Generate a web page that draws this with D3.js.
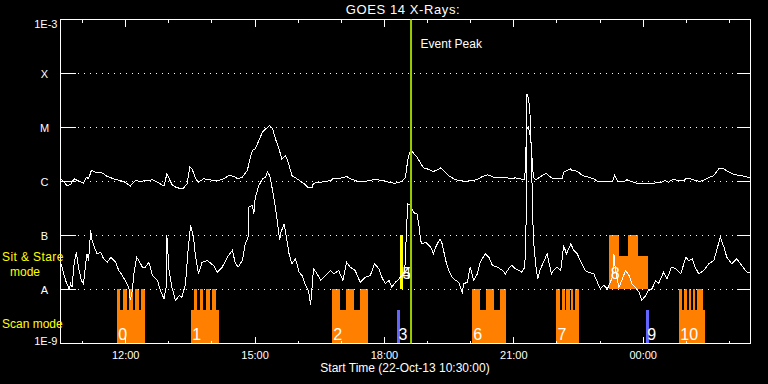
<!DOCTYPE html>
<html>
<head>
<meta charset="utf-8">
<script src="https://cdn.jsdelivr.net/npm/d3@7"></script>
<style>
  body { margin: 0; background: #000; }
  svg { display: block; font-family: "Liberation Sans", Arial, sans-serif; }
</style>
</head>
<body>
<div id="chart"></div>
<script>
// start of plot: 22-Oct-13 10:30:00, times below are minutes after that
const startTime = Date.UTC(2013, 9, 22, 10, 30);
const spanMinutes = 960;

// GOES 14 long channel (1-8 A), [minute, W/m2]
const longChannel = [[1,1.12e-6],[5,0.97e-6],[9,0.84e-6],[14,0.88e-6],[19,1.12e-6],[24,1.04e-6],[32,0.93e-6],[36,1.2e-6],[39,1.12e-6],[43,1.6e-6],[49,1.49e-6],[56,1.49e-6],[60,1.39e-6],[65,1.24e-6],[74,1.12e-6],[83,1.04e-6],[90,0.97e-6],[97,0.82e-6],[104,1.04e-6],[111,1.01e-6],[121,1.04e-6],[128,1.08e-6],[135,0.97e-6],[144,0.82e-6],[148,1.39e-6],[155,0.88e-6],[162,0.76e-6],[171,0.75e-6],[176,0.91e-6],[180,1.84e-6],[183,1.72e-6],[188,1.12e-6],[192,0.97e-6],[199,1.12e-6],[206,1.09e-6],[213,1.04e-6],[220,1.04e-6],[227,1.12e-6],[234,1.29e-6],[241,1.25e-6],[247,1.12e-6],[253,1.2e-6],[260,1.6e-6],[263,2.45e-6],[267,3.75e-6],[271,4.03e-6],[274,4.99e-6],[278,6.6e-6],[281,8.2e-6],[288,1.01e-5],[291,1.09e-5],[295,9.5e-6],[299,6.2e-6],[304,4.0e-6],[308,2.6e-6],[313,3.0e-6],[316,2.45e-6],[322,1.29e-6],[329,1.12e-6],[339,0.91e-6],[345,0.76e-6],[350,0.78e-6],[352,0.93e-6],[362,0.97e-6],[376,1.04e-6],[380,1.15e-6],[387,1.12e-6],[398,1.24e-6],[403,1.12e-6],[413,1.01e-6],[424,1.0e-6],[436,1.09e-6],[450,1.04e-6],[459,0.95e-6],[466,0.93e-6],[475,1.0e-6],[480,1.2e-6],[483,2.45e-6],[487,3.87e-6],[490,3.49e-6],[496,2.82e-6],[505,1.79e-6],[510,1.72e-6],[519,1.53e-6],[525,1.67e-6],[529,1.79e-6],[533,1.6e-6],[540,1.29e-6],[547,1.12e-6],[554,1.04e-6],[563,1.01e-6],[573,1.04e-6],[580,1.09e-6],[587,1.24e-6],[594,1.33e-6],[603,1.2e-6],[612,1.17e-6],[619,1.2e-6],[626,1.12e-6],[633,1.17e-6],[640,1.12e-6],[646,1.08e-6],[647,3.0e-6],[649,9.5e-6],[651,1.01e-5],[653,7.6e-6],[655,5.0e-6],[657,1.6e-6],[659,1.12e-6],[662,1.09e-6],[668,1.24e-6],[676,1.43e-6],[679,1.29e-6],[685,1.12e-6],[698,1.12e-6],[700,1.49e-6],[709,1.72e-6],[712,1.6e-6],[719,1.55e-6],[726,1.29e-6],[735,1.2e-6],[742,1.12e-6],[747,1.01e-6],[756,1.0e-6],[768,1.01e-6],[771,1.29e-6],[775,1.01e-6],[784,1.0e-6],[788,1.08e-6],[793,1.01e-6],[802,0.93e-6],[816,0.91e-6],[825,0.93e-6],[835,0.96e-6],[841,1.04e-6],[846,0.97e-6],[852,1.1e-6],[860,1.04e-6],[867,1.04e-6],[871,1.15e-6],[877,1.12e-6],[883,1.04e-6],[890,1.01e-6],[897,1.09e-6],[903,1.2e-6],[909,1.29e-6],[916,1.72e-6],[921,1.76e-6],[928,1.55e-6],[937,1.35e-6],[946,1.29e-6],[953,1.24e-6],[960,1.15e-6]];

// GOES 14 short channel (0.5-4 A), [minute, W/m2]
const shortChannel = [[1,2.99e-8],[5,1.82e-8],[8,1.36e-8],[12,1.03e-8],[14,1.28e-8],[16,1.1e-8],[19,2.99e-8],[22,4.9e-8],[25,2.59e-8],[29,1.47e-8],[32,1.28e-8],[35,2.99e-8],[37,4.58e-8],[39,3.44e-8],[42,1.24e-7],[44,8.1e-8],[47,6.1e-8],[51,4.58e-8],[56,4.9e-8],[60,3.7e-8],[65,3.2e-8],[70,3.96e-8],[77,3.2e-8],[81,2.25e-8],[86,1.82e-8],[90,1.47e-8],[95,1.1e-8],[97,6.3e-9],[100,9.6e-9],[102,1.95e-8],[106,3.96e-8],[109,3.44e-8],[114,2.59e-8],[118,2.59e-8],[123,3.2e-8],[128,1.82e-8],[135,1.47e-8],[139,9.6e-9],[144,6.7e-9],[147,1.1e-8],[148,1.0e-7],[151,2.25e-8],[155,1.1e-8],[160,6.3e-9],[165,7.7e-9],[169,7.2e-9],[174,1.28e-8],[177,4.58e-8],[181,1.53e-7],[185,9.3e-8],[188,3.96e-8],[192,1.95e-8],[197,3.2e-8],[204,3.44e-8],[213,2.78e-8],[218,2.09e-8],[225,2.59e-8],[232,3.96e-8],[239,5.3e-8],[243,3.2e-8],[247,2.59e-8],[253,3.44e-8],[257,7.0e-8],[261,9.3e-8],[262,3.34e-7],[267,3.6e-7],[269,2.52e-7],[271,5.1e-7],[276,8.4e-7],[281,1.12e-6],[285,1.2e-6],[288,1.49e-6],[291,1.29e-6],[296,5.9e-7],[301,2.18e-7],[305,8.1e-8],[306,1.07e-7],[311,1.65e-7],[315,8.1e-8],[318,4.58e-8],[322,2.99e-8],[327,3.7e-8],[332,2.09e-8],[336,1.82e-8],[341,1.19e-8],[345,9.6e-9],[348,5.1e-9],[350,1.1e-8],[352,2.42e-8],[357,1.95e-8],[362,1.47e-8],[366,1.69e-8],[376,2.25e-8],[380,1.95e-8],[387,2.25e-8],[393,1.47e-8],[398,3.2e-8],[403,2.59e-8],[410,2.25e-8],[417,1.36e-8],[424,1.69e-8],[431,1.82e-8],[437,2.99e-8],[443,2.42e-8],[447,1.69e-8],[452,1.28e-8],[457,1.47e-8],[461,1.1e-8],[466,1.36e-8],[471,1.58e-8],[475,1.82e-8],[479,2.25e-8],[481,9.3e-8],[482,1.9e-7],[483,3.86e-7],[486,3.75e-7],[489,3.12e-7],[493,2.52e-7],[496,2.52e-7],[499,1.43e-7],[501,8.1e-8],[503,7.0e-8],[508,7.5e-8],[515,6.1e-8],[519,4.58e-8],[522,6.1e-8],[528,8.7e-8],[531,7.0e-8],[536,3.44e-8],[540,2.25e-8],[545,1.69e-8],[550,1.47e-8],[554,1.36e-8],[559,8.9e-9],[561,1.28e-8],[566,1.36e-8],[570,2.59e-8],[575,1.47e-8],[580,1.95e-8],[584,3.2e-8],[591,4.58e-8],[596,3.96e-8],[601,2.78e-8],[608,2.59e-8],[615,2.25e-8],[619,1.95e-8],[625,2.59e-8],[628,2.78e-8],[633,2.42e-8],[638,2.25e-8],[642,2.09e-8],[646,2.59e-8],[647,8.1e-8],[648,2.18e-7],[649,4.2e-5],[651,3.49e-5],[653,2.15e-5],[655,3.75e-6],[657,2.35e-7],[658,8.1e-8],[659,6.1e-8],[661,2.99e-8],[664,1.58e-8],[667,2.25e-8],[671,2.99e-8],[677,4.58e-8],[680,2.99e-8],[683,1.95e-8],[686,2.25e-8],[691,2.59e-8],[696,2.25e-8],[700,6.5e-8],[704,4.58e-8],[710,7.0e-8],[714,5.3e-8],[719,4.58e-8],[723,3.44e-8],[730,2.25e-8],[735,2.09e-8],[742,1.95e-8],[747,1.36e-8],[751,1.03e-8],[756,1.19e-8],[761,1.03e-8],[768,1.69e-8],[770,4.58e-8],[772,2.25e-8],[777,1.1e-8],[781,1.47e-8],[786,2.25e-8],[791,1.82e-8],[795,1.28e-8],[800,1.1e-8],[805,8.9e-9],[809,6.3e-9],[814,7.7e-9],[818,9.6e-9],[823,1.03e-8],[828,1.47e-8],[832,1.28e-8],[839,2.09e-8],[844,1.58e-8],[850,2.59e-8],[856,2.42e-8],[863,1.95e-8],[870,3.96e-8],[874,3.44e-8],[879,3.7e-8],[883,2.59e-8],[888,1.95e-8],[895,2.25e-8],[902,2.99e-8],[909,3.44e-8],[918,9.3e-8],[923,6.1e-8],[927,3.96e-8],[934,2.99e-8],[941,3.7e-8],[948,2.78e-8],[955,2.09e-8],[960,2.09e-8]];

// flare class levels on the y axis
const levelValues = [1e-9, 1e-8, 1e-7, 1e-6, 1e-5, 1e-4, 1e-3];
const levelLabels = ["1E-9", "A", "B", "C", "M", "X", "1E-3"];

// observation bars, [start minute, end minute]
const scanLevels = [1e-9, 4.1e-9, 1e-8];      // bottom, low step, top
const stareLevels = [1e-8, 4.1e-8, 1e-7];
const scanBase = [[79,118],[182,221],[378,428],[573,621],[690,722],[861,897]];
const scanTall = [[79,84],[88,93],[96,101],[104,110],[112,118],
                  [186,191],[195,199],[203,208],[212,217],
                  [378,390],[398,409],[417,428],
                  [573,584],[593,604],[612,621],
                  [690,696],[698,702],[704,709],[711,714],[717,722],
                  [861,865],[868,872],[875,878],[880,884],[886,894]];
const stareBase = [[764,818]];
const stareTall = [[764,778],[790,804]];
const blueBars = [[469,473],[815,819]];
const yellowBars = [[473,477]];

const scanLabelText = ["0","1","2","3","6","7","9","10"];
const scanLabelTime = [79,182,378,469,573,690,815,861];
const stareLabelText = ["4","5","8"];
const stareLabelTime = [474,474,764];

const eventPeak = 487;

const toDate = m => new Date(startTime + m * 60000);

const margin = { top: 19, right: 18, bottom: 41, left: 60 };
const width = 768 - margin.left - margin.right;
const height = 384 - margin.top - margin.bottom;

const svg = d3.select("#chart")
    .append("svg")
    .attr("width", 768)
    .attr("height", 384)
    .style("background", "#000");

const g = svg.append("g")
    .attr("transform", "translate(" + (margin.left + 0.5) + "," + (margin.top + 0.5) + ")");

const x = d3.scaleUtc().domain([toDate(0), toDate(spanMinutes)]).range([0, width]);
const y = d3.scaleLog().domain([1e-9, 1e-3]).range([height, 0]);

// bars: draw base blocks first, the tall bars on top leave black notches
function bars(list, lo, hi, color) {
    g.append("g").selectAll("rect")
        .data(list)
        .join("rect")
        .attr("x", d => x(toDate(d[0])) - 0.5)
        .attr("width", d => x(toDate(d[1])) - x(toDate(d[0])))
        .attr("y", y(hi) - 0.5)
        .attr("height", y(lo) - y(hi))
        .attr("fill", color)
        .attr("shape-rendering", "crispEdges");
}
bars(scanBase, scanLevels[0], scanLevels[1], "#ff8000");
bars(scanTall, scanLevels[0], scanLevels[2], "#ff8000");
bars(stareBase, stareLevels[0], stareLevels[1], "#ff8000");
bars(stareTall, stareLevels[0], stareLevels[2], "#ff8000");
bars(blueBars, scanLevels[0], scanLevels[1], "#6464ff");
bars(yellowBars, stareLevels[0], stareLevels[2], "#ffff00");

// dotted grid lines at A, B, C, M, X with solid stubs at both ends
const gridLevels = levelValues.slice(1, -1);
const grid = g.append("g");
grid.selectAll(".dots")
    .data(gridLevels)
    .join("line")
    .attr("x1", 17).attr("x2", 675)
    .attr("y1", d => y(d)).attr("y2", d => y(d))
    .attr("stroke", "#fff")
    .attr("stroke-dasharray", "1,5")
    .attr("shape-rendering", "crispEdges");
grid.selectAll(".stubL")
    .data(gridLevels)
    .join("line")
    .attr("x1", 0).attr("x2", 15)
    .attr("y1", d => y(d)).attr("y2", d => y(d))
    .attr("stroke", "#fff")
    .attr("shape-rendering", "crispEdges");
grid.selectAll(".stubR")
    .data(gridLevels)
    .join("line")
    .attr("x1", width - 14).attr("x2", width)
    .attr("y1", d => y(d)).attr("y2", d => y(d))
    .attr("stroke", "#fff")
    .attr("shape-rendering", "crispEdges");

// frame
g.append("rect")
    .attr("x", 0).attr("y", 0)
    .attr("width", width).attr("height", height)
    .attr("fill", "none")
    .attr("stroke", "#fff")
    .attr("shape-rendering", "crispEdges");

// time axes, ticks pointing inward
function timeAxis(axisFn, yPos, every, size, labels) {
    const a = g.append("g")
        .attr("transform", "translate(0," + yPos + ")")
        .call(axisFn(x)
            .ticks(d3.utcHour.every(every))
            .tickSizeInner(size)
            .tickSizeOuter(0)
            .tickPadding(8)
            .tickFormat(labels ? d3.utcFormat("%H:%M") : ""));
    a.select(".domain").remove();
    a.selectAll("line").attr("stroke", "#fff").attr("shape-rendering", "crispEdges");
    a.selectAll("text")
        .attr("fill", "#fff")
        .style("font-family", "'Liberation Sans', Arial, sans-serif")
        .style("font-size", "11px");
}
timeAxis(d3.axisTop, 0, 1, -3, false);
timeAxis(d3.axisTop, 0, 3, -7, false);
timeAxis(d3.axisBottom, height, 1, -3, false);
timeAxis(d3.axisBottom, height, 3, -7, true);

// y labels
g.append("g").selectAll("text")
    .data(levelValues)
    .join("text")
    .attr("x", (d, i) => (i === 0 || i === levelValues.length - 1) ? -3 : -16)
    .attr("y", (d, i) => y(d) + (i === 0 ? 1 : i === levelValues.length - 1 ? 8 : 4))
    .attr("text-anchor", (d, i) => (i === 0 || i === levelValues.length - 1) ? "end" : "middle")
    .attr("fill", "#fff")
    .style("font-size", "11px")
    .text((d, i) => levelLabels[i]);

// flux curves
const line = d3.line()
    .x(d => x(toDate(d[0])))
    .y(d => y(d[1]));

g.append("path")
    .datum(longChannel)
    .attr("d", line)
    .attr("fill", "none")
    .attr("stroke", "#fff")
    .attr("stroke-width", 1)
    .attr("shape-rendering", "crispEdges");

g.append("path")
    .datum(shortChannel)
    .attr("d", line)
    .attr("fill", "none")
    .attr("stroke", "#fff")
    .attr("stroke-width", 1)
    .attr("shape-rendering", "crispEdges");

// block numbers
g.append("g").selectAll("text")
    .data(scanLabelText)
    .join("text")
    .attr("x", (d, i) => x(toDate(scanLabelTime[i])) + 1)
    .attr("y", y(scanLevels[0]) - 4)
    .attr("fill", "#fff")
    .style("font-size", "16px")
    .text(d => d);

g.append("g").selectAll("text")
    .data(stareLabelText)
    .join("text")
    .attr("x", (d, i) => x(toDate(stareLabelTime[i])) + 1)
    .attr("y", y(stareLevels[0]) - 11)
    .attr("fill", "#fff")
    .style("font-size", "16px")
    .text(d => d);

// event peak marker
g.append("line")
    .attr("x1", x(toDate(eventPeak)) + 0.5).attr("x2", x(toDate(eventPeak)) + 0.5)
    .attr("y1", 0).attr("y2", height)
    .attr("stroke", "#9acd00")
    .attr("stroke-width", 2);

g.append("text")
    .attr("x", x(toDate(eventPeak)) + 10)
    .attr("y", 28)
    .attr("fill", "#fff")
    .style("font-size", "12px")
    .text("Event Peak");

// title and axis caption
svg.append("text")
    .attr("x", margin.left + width / 2 - 2)
    .attr("y", 14)
    .attr("text-anchor", "middle")
    .attr("fill", "#fff")
    .style("font-size", "13px")
    .style("letter-spacing", "0.6px")
    .text("GOES 14 X-Rays:");

svg.append("text")
    .attr("x", margin.left + width / 2)
    .attr("y", 372)
    .attr("text-anchor", "middle")
    .attr("fill", "#fff")
    .style("font-size", "12px")
    .text("Start Time (22-Oct-13 10:30:00)");

// mode labels on the left
const modeLabels = svg.append("g").attr("fill", "#ffff00").style("font-size", "12px");
modeLabels.append("text").attr("x", 2).attr("y", 261).style("letter-spacing", "0.4px").text("Sit & Stare");
modeLabels.append("text").attr("x", 25).attr("y", 276).attr("text-anchor", "middle").text("mode");
modeLabels.append("text").attr("x", 2).attr("y", 328).text("Scan mode");
</script>
</body>
</html>
